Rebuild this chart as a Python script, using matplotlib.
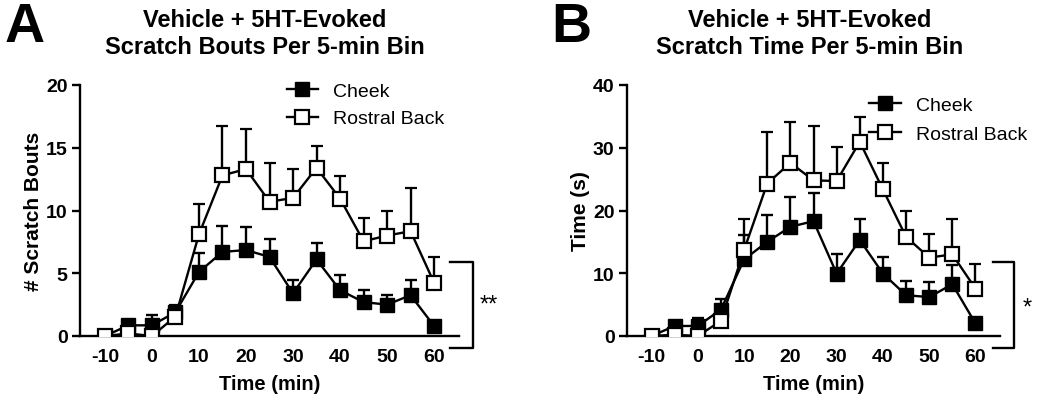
import matplotlib
matplotlib.use("Agg")
import matplotlib.pyplot as plt
from matplotlib.lines import Line2D
import numpy as np

plt.rcParams['font.family'] = ['Liberation Sans', 'DejaVu Sans']
plt.rcParams['axes.unicode_minus'] = False

time = [-10, -5, 0, 5, 10, 15, 20, 25, 30, 35, 40, 45, 50, 55, 60]

# Panel A: scratch bouts
bouts_cheek = [0, 0.85, 0.85, 1.9, 5.1, 6.7, 6.85, 6.3, 3.4, 6.1, 3.65, 2.7, 2.5, 3.25, 0.8]
bouts_cheek_sem = [0, 0.1, 0.85, 0.5, 1.55, 2.1, 1.85, 1.45, 1.05, 1.3, 1.2, 1.0, 0.8, 1.25, 0.2]
bouts_back = [0, 0.2, 0.0, 1.55, 8.1, 12.8, 13.3, 10.7, 11.0, 13.4, 10.95, 7.55, 8.0, 8.35, 4.25]
bouts_back_sem = [0, 0.1, 0.1, 0.95, 2.4, 3.9, 3.2, 3.1, 2.3, 1.7, 1.8, 1.85, 2.0, 3.45, 2.05]

# Panel B: scratch time (s)
stime_cheek = [0, 1.6, 1.6, 4.2, 12.2, 15.0, 17.4, 18.3, 9.95, 15.3, 9.95, 6.5, 6.2, 8.25, 2.0]
stime_cheek_sem = [0, 0.2, 1.3, 1.65, 3.9, 4.25, 4.8, 4.5, 3.05, 3.3, 2.65, 2.2, 2.4, 3.05, 0.3]
stime_back = [0, 0.2, 0.0, 2.4, 13.7, 24.3, 27.6, 24.8, 24.7, 30.95, 23.35, 15.8, 12.5, 13.0, 7.55]
stime_back_sem = [0, 0.1, 0.1, 1.0, 5.0, 8.25, 6.5, 8.7, 5.35, 4.0, 4.25, 4.1, 3.7, 5.6, 3.85]

xticks = [-10, 0, 10, 20, 30, 40, 50, 60]
labels = ["Cheek", "Rostral Back"]

fig = plt.figure(figsize=(10.5, 4.1), dpi=100)


def panel(rect, cheek, cheek_sem, back, back_sem, ymax, ystep, ylabel, title,
          letter, letter_x, title_x, leg_anchor, leg_spacing, bracket, star):
    ax = fig.add_axes(rect)
    z = np.zeros(len(time))
    ax.errorbar(time, cheek, yerr=[z, cheek_sem], color='black', lw=1.7,
                marker='s', ms=10, mfc='black', mec='black', capsize=4,
                elinewidth=1.7, capthick=1.7, zorder=3)
    ax.errorbar(time, back, yerr=[z, back_sem], color='black', lw=1.7,
                marker='s', ms=10, mfc='white', mec='black', mew=1.6,
                capsize=4, elinewidth=1.7, capthick=1.7, zorder=4)
    ax.set_xlim(-15.3, 65.3)
    ax.set_ylim(0, ymax)
    ax.set_xticks(xticks)
    ax.set_yticks(np.arange(0, ymax + 0.1, ystep))
    for s in ['top', 'right']:
        ax.spines[s].set_visible(False)
    for s in ['left', 'bottom']:
        ax.spines[s].set_linewidth(1.7)
    ax.tick_params(axis='both', width=1.7, length=6, labelsize=14, pad=3)
    ax.tick_params(axis='x', length=0, pad=9)
    for t in ax.get_xticklabels() + ax.get_yticklabels():
        t.set_fontweight('bold')
    ax.set_xlabel("Time (min)", fontsize=14.5, fontweight='bold', labelpad=6)
    ax.set_ylabel(ylabel, fontsize=15, fontweight='bold', labelpad=2)
    handles = [
        Line2D([], [], color='black', lw=1.7, marker='s', ms=10, mfc='black', mec='black'),
        Line2D([], [], color='black', lw=1.7, marker='s', ms=10, mfc='white', mec='black', mew=1.6),
    ]
    ax.legend(handles, labels, loc='upper left', bbox_to_anchor=leg_anchor, frameon=False,
              fontsize=14, handlelength=1.6, handletextpad=0.8,
              labelspacing=leg_spacing, borderpad=0, borderaxespad=0)
    # significance bracket
    bx0, bx1, by0, by1 = bracket
    ax.plot([bx0, bx1, bx1, bx0], [by1, by1, by0, by0], color='black', lw=1.7,
            clip_on=False)
    ax.text(star[0], star[1], star[2], fontsize=17, ha='left', va='center',
            fontweight='normal', clip_on=False)
    fig.text(title_x, 1 - 34 / 410, title, ha='center', va='center',
             fontsize=17, fontweight='bold', linespacing=1.2)
    fig.text(letter_x, 1 - 28 / 410, letter, ha='left', va='center',
             fontsize=40, fontweight='bold')
    return ax


panel([80 / 1050, 1 - 337 / 410, 379 / 1050, 251 / 410],
      bouts_cheek, bouts_cheek_sem, bouts_back, bouts_back_sem,
      20, 5, "# Scratch Bouts",
      "Vehicle + 5HT-Evoked\nScratch Bouts Per 5-min Bin", "A",
      5 / 1050, 265 / 1050, (0.545, 1.01), 0.5, (63.4, 68.3, -0.95, 5.9),
      (69.6, 2.5, "**"))

panel([627 / 1050, 1 - 337 / 410, 373 / 1050, 251 / 410],
      stime_cheek, stime_cheek_sem, stime_back, stime_back_sem,
      40, 10, "Time (s)",
      "Vehicle + 5HT-Evoked\nScratch Time Per 5-min Bin", "B",
      551 / 1050, 810 / 1050, (0.65, 0.955), 0.6, (63.7, 68.4, -1.9, 11.8),
      (70.3, 4.6, "*"))

fig.savefig("out.png", dpi=100, facecolor='white')
